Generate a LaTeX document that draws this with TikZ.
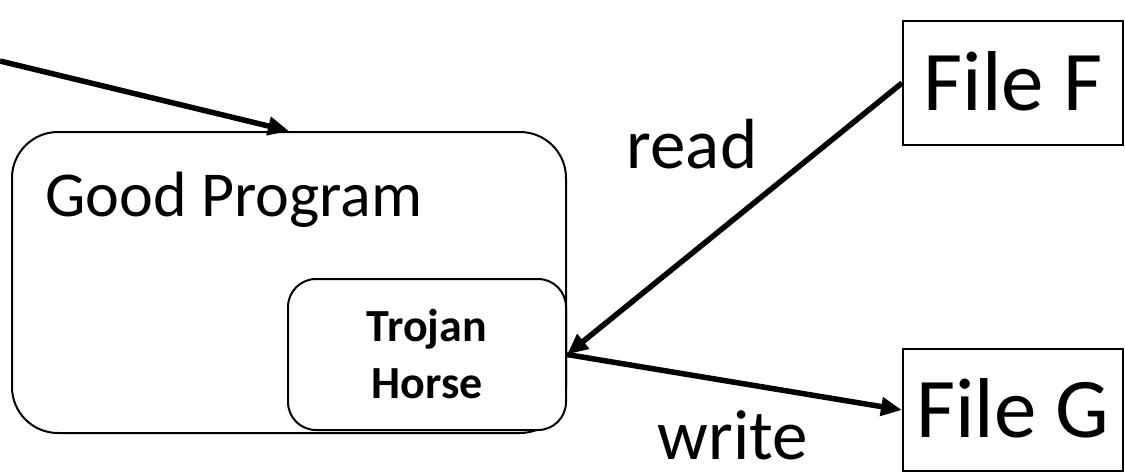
\documentclass[tikz,border=0pt]{standalone}
\usepackage{fontspec}
\setmainfont{Carlito}
\usetikzlibrary{arrows.meta}
\begin{document}
\begin{tikzpicture}[x=1pt,y=-1pt,
  box/.style={draw=black, line width=2pt, inner sep=0pt},
  flow/.style={line width=5.5pt, -{Triangle[length=21pt,width=18pt]}},
  label/.style={inner sep=0pt, anchor=base}]
\useasboundingbox (0,0) rectangle (1125,472);

% program box with the trojan horse inside
\node[box, rounded corners=46pt, minimum width=554pt, minimum height=301pt] (good) at (289,282.5) {};
\node[label, anchor=base west, font=\fontsize{64}{64}\selectfont] (goodlbl) at (45,216) {Good Program};
\node[box, rounded corners=28pt, fill=white, minimum width=278pt, minimum height=151pt,
      align=center, font=\fontsize{46}{57}\selectfont\bfseries] (trojan) at (427,354.5) {Trojan\\Horse};

% files
\node[box, minimum width=220pt, minimum height=124pt, text height=54pt, text depth=0pt,
      font=\fontsize{85}{85}\selectfont] (fileF) at (1013,83) {File F};
\node[box, minimum width=220pt, minimum height=122pt, text height=54pt, text depth=0pt,
      font=\fontsize{85}{85}\selectfont] (fileG) at (1013,410) {File G};

% operation labels
\node[label, font=\fontsize{71}{71}\selectfont] (readlbl) at (692,168) {read};
\node[label, font=\fontsize{71}{71}\selectfont] (writelbl) at (733,459) {write};

% flows
\coordinate (src) at (0,61);
\draw[flow] (src) -- (good.north);
\draw[flow] (fileF.west) -- (trojan.east);
\draw[flow] (trojan.east) -- (fileG.west);
\end{tikzpicture}
\end{document}
